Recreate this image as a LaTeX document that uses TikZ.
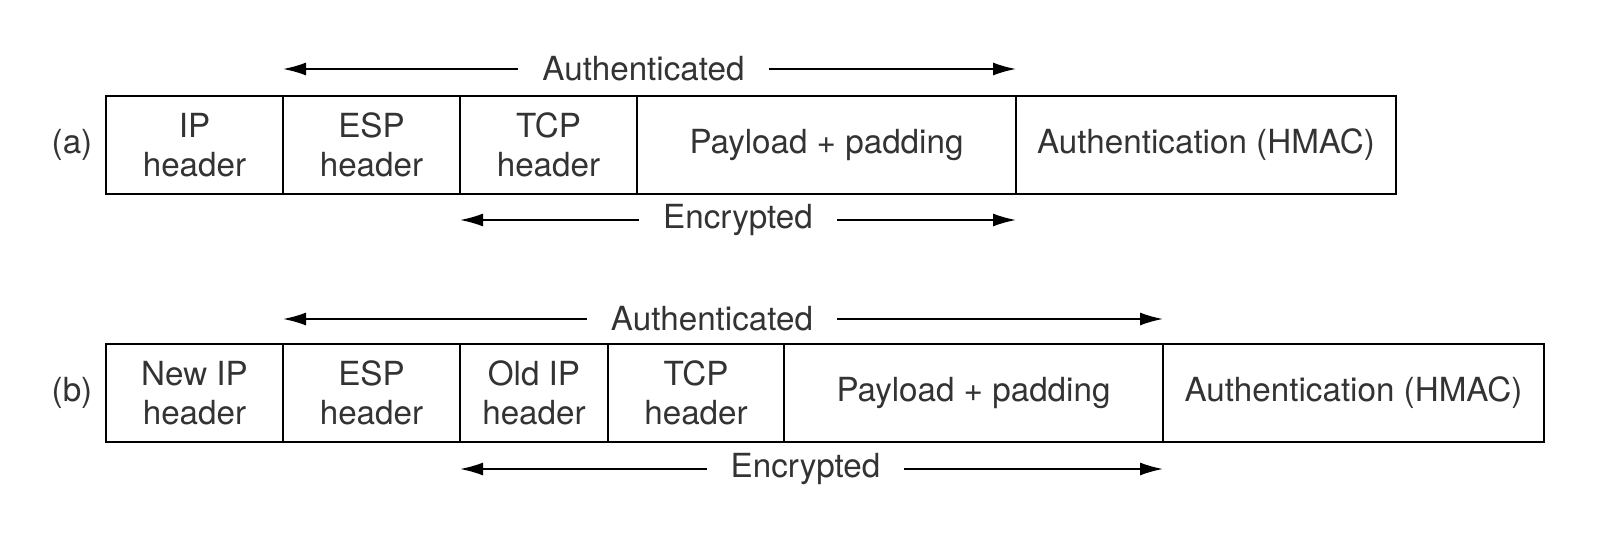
\documentclass[tikz,border=0pt]{standalone}
\usepackage{fontspec}
\setmainfont{TeX Gyre Heros}
\usetikzlibrary{arrows.meta}
\usetikzlibrary{positioning}
\definecolor{textgray}{gray}{0.2}
\tikzset{
    field/.style = {draw, line width=1pt, outer sep=0pt, inner sep=0pt,
        minimum height=49pt, align=center, text=textgray,
        font=\fontsize{16.6}{19.5}\selectfont},
    span/.style = {{Latex[length=11.5pt,width=6.5pt]}-{Latex[length=11.5pt,width=6.5pt]},
        line width=0.9pt},
    spanlabel/.style = {fill=white, inner xsep=12pt, inner ysep=1pt,
        text=textgray, font=\fontsize{16.6}{19.5}\selectfont},
    tag/.style = {text=textgray, font=\fontsize{16.6}{19.5}\selectfont}
}

\begin{document}
\begin{tikzpicture}[x=0.5pt, y=-0.5pt]
        \useasboundingbox (0,0) rectangle (1600,540);
        % (a) transport mode
        \node [field, anchor=west, minimum width=88.5pt] (ipA) at (106,145) {IP\\header};
        \node [field, minimum width=88.5pt, right=0pt of ipA] (espA) {ESP\\header};
        \node [field, minimum width=88.5pt, right=0pt of espA] (tcpA) {TCP\\header};
        \node [field, minimum width=189.5pt, right=0pt of tcpA] (payA) {Payload + padding};
        \node [field, minimum width=190pt, right=0pt of payA] (macA) {Authentication (HMAC)};
        \node [tag] (tagA) at (72,145) {(a)};
        \draw [span] ([yshift=13.5pt]espA.north west) -- node [spanlabel, xshift=-3pt] {Authenticated}
            ([yshift=13.5pt]payA.north east);
        \draw [span] ([yshift=-13pt]tcpA.south west) -- node [spanlabel] {Encrypted}
            ([yshift=-13pt]payA.south east);
        % (b) tunnel mode
        \node [field, anchor=west, minimum width=88.5pt] (ipB) at (106,393) {New IP\\header};
        \node [field, minimum width=88.5pt, right=0pt of ipB] (espB) {ESP\\header};
        \node [field, minimum width=74pt, right=0pt of espB] (oldB) {Old IP\\header};
        \node [field, minimum width=88pt, right=0pt of oldB] (tcpB) {TCP\\header};
        \node [field, minimum width=189.5pt, right=0pt of tcpB] (payB) {Payload + padding};
        \node [field, minimum width=190.5pt, right=0pt of payB] (macB) {Authentication (HMAC)};
        \node [tag] (tagB) at (72,393) {(b)};
        \draw [span] ([yshift=12.5pt]espB.north west) -- node [spanlabel, xshift=-5.5pt] {Authenticated}
            ([yshift=12.5pt]payB.north east);
        \draw [span] ([yshift=-13.5pt]oldB.south west) -- node [spanlabel, xshift=-3pt] {Encrypted}
            ([yshift=-13.5pt]payB.south east);
\end{tikzpicture}
\end{document}
